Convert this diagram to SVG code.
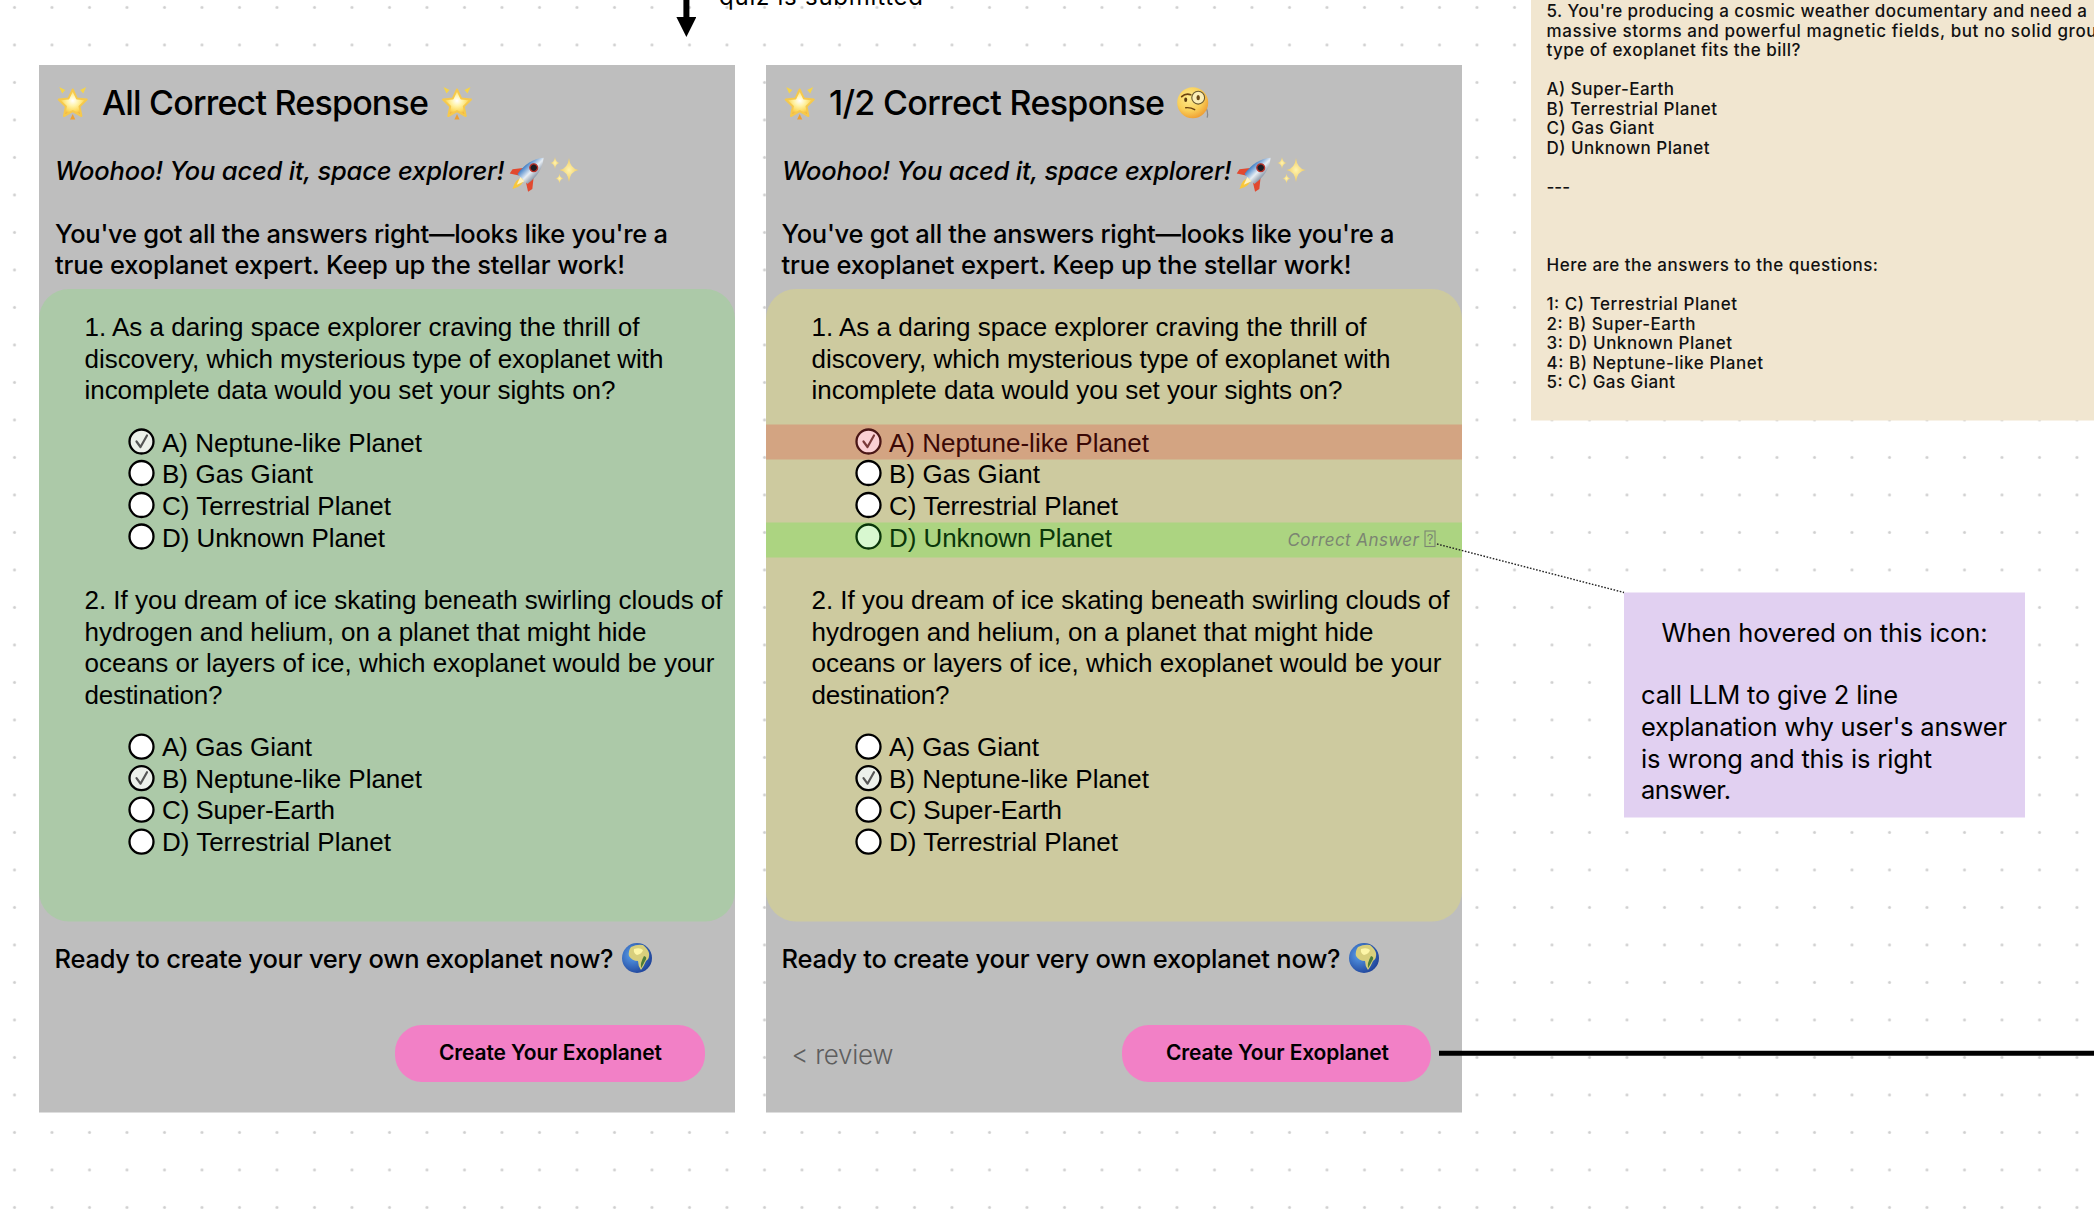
<svg xmlns="http://www.w3.org/2000/svg" width="2094" height="1224" viewBox="0 0 2094 1224">
<style>
.ui{font-family:"Inter","Noto Sans",sans-serif;fill:#000}
.h1{font-size:34px;font-weight:500}
.em{font-size:25.5px;font-weight:500;font-style:italic}
.b{font-size:25.5px;font-weight:500}
.q{font-family:"Liberation Sans",Arial,sans-serif;font-size:26px;fill:#000}
.btn{font-size:21px;font-weight:600}
.panel{fill:#bebebe}
.pill{fill:#f280c6}
.radio{fill:#fff;stroke:#000;stroke-width:2.3}
.on{fill:#ecf0ea}
.tick{fill:none;stroke:#555;stroke-width:2.2;stroke-linecap:round;stroke-linejoin:round}
.a{font-family:"Inter","Noto Sans",sans-serif;font-size:17px;font-weight:500;fill:#111}
.n{font-family:"Inter","Noto Sans",sans-serif;font-size:25.5px;fill:#000}
</style>
<defs>
<pattern id="dots" width="37.5" height="37.5" patternUnits="userSpaceOnUse"><circle cx="14.5" cy="7.5" r="1.5" fill="#cfcfcf"/></pattern>
<marker id="head" markerUnits="userSpaceOnUse" markerWidth="22" markerHeight="22" refX="1" refY="10" orient="auto"><path d="M0,0L20,10L0,20Z" fill="#000"/></marker>
<radialGradient id="gStar" cx="50%" cy="42%" r="58%"><stop offset="0" stop-color="#ffffff"/><stop offset=".35" stop-color="#fff3a8"/><stop offset=".7" stop-color="#fcd85c"/><stop offset="1" stop-color="#eda332"/></radialGradient>
<radialGradient id="gFace" cx="40%" cy="35%" r="70%"><stop offset="0" stop-color="#fdeb8f"/><stop offset=".6" stop-color="#f9cf58"/><stop offset="1" stop-color="#ee9a30"/></radialGradient>
<radialGradient id="gSea" cx="35%" cy="40%" r="70%"><stop offset="0" stop-color="#5aa0ec"/><stop offset="1" stop-color="#1c3f96"/></radialGradient>
<linearGradient id="gBody" x1="0" y1="0" x2="1" y2="0"><stop offset="0" stop-color="#3f7fc8"/><stop offset=".55" stop-color="#e8eef4"/><stop offset="1" stop-color="#8a97a8"/></linearGradient>
<radialGradient id="gSpark" cx="50%" cy="50%" r="50%"><stop offset="0" stop-color="#fff4b0"/><stop offset="1" stop-color="#f0ca60"/></radialGradient>
<g id="star">
<path d="M0,-13.5L4.2,-4.6L14,-3.4L6.8,3.4L8.7,13L0,8.2L-8.7,13L-6.8,3.4L-14,-3.4L-4.2,-4.6Z" fill="url(#gStar)" stroke="#f6c94c" stroke-width="2" stroke-linejoin="round"/>
<path d="M-13.5,-16L-7.5,-13L-10.5,-9.5Z M13.5,-16L7.5,-13L10.5,-9.5Z" fill="#f5d44a"/>
<path d="M-2.6,16.5L2.6,16.5L0,11Z" fill="#ee9f32"/>
</g>
<g id="spark4"><path d="M0,-10Q1,-1 8,0Q1,1 0,10Q-1,1 -8,0Q-1,-1 0,-10Z" fill="url(#gSpark)"/></g>
<g id="rocket">
<g transform="rotate(45)">
<path d="M-6,0L-14,10L-13,15L-5,10Z M6,0L14,10L13,15L5,10Z" fill="#e2492f"/>
<path d="M0,8Q6,14 0,24Q-6,14 0,8Z" fill="#f8c73c"/>
<path d="M0,-20Q10,-8 7,10L-7,10Q-10,-8 0,-20Z" fill="url(#gBody)"/>
<path d="M-3,10L3,10L0,18Z" fill="#fff3c0"/>
<circle cy="-6" r="3.8" fill="#1c1c24" stroke="#b8322a" stroke-width="1.5"/>
</g>
</g>
<g id="sparkles">
<use href="#spark4" transform="scale(1.2)"/>
<use href="#spark4" transform="translate(-14,-7) scale(.6)"/>
<use href="#spark4" transform="translate(-9.5,8.5) scale(.5)"/>
</g>
<g id="globe">
<circle r="15" fill="url(#gSea)"/>
<path d="M-6,-11Q0,-14 6,-13Q11,-9 12,-5Q13,0 9,3Q7,8 4,12Q1,8 1,3Q-5,3 -8,-2Q-9,-7 -6,-11Z" fill="#d8cf7c"/>
<path d="M-3,-9Q3,-11 6,-8Q5,-4 0,-3Q-4,-5 -3,-9Z" fill="#fdf6a8"/>
<path d="M7,-2Q11,-1 8,3Q5,9 4,10Q3,5 7,-2Z" fill="#4e7d3a"/>
</g>
<g id="monocle">
<path d="M12,2Q16,9 14.5,15" fill="none" stroke="#8a8a8a" stroke-width="1.3"/>
<circle r="15.5" fill="url(#gFace)"/>
<path d="M-11,-6Q-7,-10 -2,-8" fill="none" stroke="#6b4210" stroke-width="1.7" stroke-linecap="round"/>
<ellipse cx="-7" cy="-3" rx="1.5" ry="2.2" fill="#5a3a10"/>
<path d="M-7,5Q-2,4.5 2,7" fill="none" stroke="#6b4210" stroke-width="1.4" stroke-linecap="round"/>
<circle cx="5.5" cy="-5" r="6.4" fill="#fbeeb8" stroke="#6b5a30" stroke-width="1.1"/>
<ellipse cx="5.5" cy="-5" rx="1.7" ry="2.6" fill="#6b4a18"/>
</g>
</defs>

<rect id="background" width="2094" height="1224" fill="#fff"/>
<rect width="2094" height="1224" fill="url(#dots)"/>

<g id="panel-all-correct">
<rect class="panel" x="39" y="65" width="696" height="1047.5"/>
<use href="#star" x="72.7" y="103"/>
<text class="ui h1" x="102" y="115" textLength="327">All Correct Response</text>
<use href="#star" x="457" y="103"/>
<text class="ui em" x="55" y="180" textLength="449.5">Woohoo! You aced it, space explorer!</text>
<use href="#rocket" transform="translate(529.5,172) scale(1)"/>
<use href="#sparkles" x="569" y="170"/>
<text class="ui b" x="55" y="243" textLength="613">You've got all the answers right—looks like you're a</text>
<text class="ui b" x="55" y="274" textLength="570">true exoplanet expert. Keep up the stellar work!</text>
<rect x="39" y="289" width="696" height="632.5" rx="30" fill="#acc9a8"/>
<text class="q" x="84.5" y="336.2" textLength="555">1. As a daring space explorer craving the thrill of</text>
<text class="q" x="84.5" y="367.7" textLength="579">discovery, which mysterious type of exoplanet with</text>
<text class="q" x="84.5" y="399.2" textLength="531">incomplete data would you set your sights on?</text>
<circle class="radio on" cx="141.5" cy="441.5" r="12"/><path class="tick" d="M136.5,441.5L140.5,447L147,435.5"/>
<text class="q" x="162" y="452.4" textLength="260">A) Neptune-like Planet</text>
<circle class="radio" cx="141.5" cy="473" r="12"/>
<text class="q" x="162" y="483.4" textLength="151">B) Gas Giant</text>
<circle class="radio" cx="141.5" cy="505" r="12"/>
<text class="q" x="162" y="515.4" textLength="229">C) Terrestrial Planet</text>
<circle class="radio" cx="141.5" cy="536.5" r="12"/>
<text class="q" x="162" y="546.7" textLength="223">D) Unknown Planet</text>
<text class="q" x="84.5" y="609" textLength="638">2. If you dream of ice skating beneath swirling clouds of</text>
<text class="q" x="84.5" y="641" textLength="562">hydrogen and helium, on a planet that might hide</text>
<text class="q" x="84.5" y="672.4" textLength="630">oceans or layers of ice, which exoplanet would be your</text>
<text class="q" x="84.5" y="704.2" textLength="138">destination?</text>
<circle class="radio" cx="141.5" cy="746.7" r="12"/>
<text class="q" x="162" y="756.2" textLength="150">A) Gas Giant</text>
<circle class="radio on" cx="141.5" cy="778.2" r="12"/><path class="tick" d="M136.5,778.2L140.5,783.7L147,772.2"/>
<text class="q" x="162" y="788.2" textLength="260">B) Neptune-like Planet</text>
<circle class="radio" cx="141.5" cy="809.7" r="12"/>
<text class="q" x="162" y="819.4" textLength="173">C) Super-Earth</text>
<circle class="radio" cx="141.5" cy="841.7" r="12"/>
<text class="q" x="162" y="851.2" textLength="229">D) Terrestrial Planet</text>
<text class="ui b" x="54.5" y="968" textLength="559">Ready to create your very own exoplanet now?</text>
<use href="#globe" x="637" y="958"/>
<rect class="pill" x="395" y="1025" width="310" height="57" rx="27"/>
<text class="ui btn" x="439" y="1060" textLength="223">Create Your Exoplanet</text>
</g>

<g id="panel-half-correct">
<rect class="panel" x="766" y="65" width="696" height="1047.5"/>
<use href="#star" x="799.7" y="103"/>
<text class="ui h1" x="829" y="115" textLength="336">1/2 Correct Response</text>
<use href="#monocle" x="1192.7" y="102.7"/>
<text class="ui em" x="782" y="180" textLength="449.5">Woohoo! You aced it, space explorer!</text>
<use href="#rocket" transform="translate(1256.5,172) scale(1)"/>
<use href="#sparkles" x="1296" y="170"/>
<text class="ui b" x="781.5" y="243" textLength="613">You've got all the answers right—looks like you're a</text>
<text class="ui b" x="781.5" y="274" textLength="570">true exoplanet expert. Keep up the stellar work!</text>
<rect x="766" y="289" width="696" height="632.5" rx="30" fill="#cdca9f"/>
<text class="q" x="811.5" y="336.2" textLength="555">1. As a daring space explorer craving the thrill of</text>
<text class="q" x="811.5" y="367.7" textLength="579">discovery, which mysterious type of exoplanet with</text>
<text class="q" x="811.5" y="399.2" textLength="531">incomplete data would you set your sights on?</text>
<rect x="766" y="424.5" width="696" height="35" fill="#d3a482"/>
<rect x="766" y="522.5" width="696" height="35" fill="#acd481"/>
<circle cx="868.5" cy="441.5" r="12" fill="#fbd0d4" stroke="#4a1616" stroke-width="2.3"/><path class="tick" style="stroke:#7a3a3a" d="M863.5,441.5L867.5,447L874,435.5"/>
<text class="q" style="fill:#3a0806" x="889" y="452.4" textLength="260">A) Neptune-like Planet</text>
<circle class="radio" cx="868.5" cy="473" r="12"/>
<text class="q" x="889" y="483.4" textLength="151">B) Gas Giant</text>
<circle class="radio" cx="868.5" cy="505" r="12"/>
<text class="q" x="889" y="515.4" textLength="229">C) Terrestrial Planet</text>
<circle cx="868.5" cy="536.5" r="12" fill="#d8f8d0" stroke="#0a360a" stroke-width="2.3"/>
<text class="q" style="fill:#0a360a" x="889" y="546.7" textLength="223">D) Unknown Planet</text>
<text x="1287.5" y="545.5" textLength="131.5" font-family="Inter,'Noto Sans',sans-serif" font-size="17" font-style="italic" fill="#7b8472">Correct Answer</text>
<rect x="1425" y="531" width="10" height="15.5" fill="none" stroke="#7b8472" stroke-width="1.1"/>
<text x="1430" y="544" text-anchor="middle" font-family="Inter,'Noto Sans',sans-serif" font-size="13" fill="#7b8472">?</text>
<text class="q" x="811.5" y="609" textLength="638">2. If you dream of ice skating beneath swirling clouds of</text>
<text class="q" x="811.5" y="641" textLength="562">hydrogen and helium, on a planet that might hide</text>
<text class="q" x="811.5" y="672.4" textLength="630">oceans or layers of ice, which exoplanet would be your</text>
<text class="q" x="811.5" y="704.2" textLength="138">destination?</text>
<circle class="radio" cx="868.5" cy="746.7" r="12"/>
<text class="q" x="889" y="756.2" textLength="150">A) Gas Giant</text>
<circle class="radio on" cx="868.5" cy="778.2" r="12"/><path class="tick" d="M863.5,778.2L867.5,783.7L874,772.2"/>
<text class="q" x="889" y="788.2" textLength="260">B) Neptune-like Planet</text>
<circle class="radio" cx="868.5" cy="809.7" r="12"/>
<text class="q" x="889" y="819.4" textLength="173">C) Super-Earth</text>
<circle class="radio" cx="868.5" cy="841.7" r="12"/>
<text class="q" x="889" y="851.2" textLength="229">D) Terrestrial Planet</text>
<text class="ui b" x="781.5" y="968" textLength="559">Ready to create your very own exoplanet now?</text>
<use href="#globe" x="1364" y="958"/>
<text x="791.5" y="1064" textLength="102" font-family="Inter,'Noto Sans',sans-serif" font-size="26" font-weight="300" fill="#5e5e5e">&lt; review</text>
<rect class="pill" x="1122" y="1025" width="309" height="57" rx="27"/>
<text class="ui btn" x="1166" y="1060" textLength="223">Create Your Exoplanet</text>
</g>

<g id="note-answers">
<rect x="1531" y="0" width="563" height="420.5" fill="#f1e6d0"/>
<text class="a" x="1546.5" y="16.7" textLength="540.5">5. You're producing a cosmic weather documentary and need a</text>
<text class="a" x="1546.5" y="36.5" textLength="550">massive storms and powerful magnetic fields, but no solid grou</text>
<text class="a" x="1546.5" y="56" textLength="254">type of exoplanet fits the bill?</text>
<text class="a" x="1546.5" y="95" textLength="127.5">A) Super-Earth</text>
<text class="a" x="1546.5" y="114.7" textLength="170.5">B) Terrestrial Planet</text>
<text class="a" x="1546.5" y="134" textLength="107.5">C) Gas Giant</text>
<text class="a" x="1546.5" y="154" textLength="163">D) Unknown Planet</text>
<text class="a" x="1546.5" y="193" textLength="23.5">---</text>
<text class="a" x="1546.5" y="271.3" textLength="331.5">Here are the answers to the questions:</text>
<text class="a" x="1546.5" y="310.3" textLength="190.5">1: C) Terrestrial Planet</text>
<text class="a" x="1546.5" y="329.6" textLength="149">2: B) Super-Earth</text>
<text class="a" x="1546.5" y="349.3" textLength="185.5">3: D) Unknown Planet</text>
<text class="a" x="1546.5" y="368.6" textLength="216.5">4: B) Neptune-like Planet</text>
<text class="a" x="1546.5" y="388.3" textLength="128.5">5: C) Gas Giant</text>
</g>

<g id="note-hover">
<rect x="1624" y="592.5" width="401" height="225" fill="#e1d0f1"/>
<text class="n" x="1661.5" y="641.5" textLength="326">When hovered on this icon:</text>
<text class="n" x="1641" y="704" textLength="257">call LLM to give 2 line</text>
<text class="n" x="1641" y="736" textLength="366">explanation why user's answer</text>
<text class="n" x="1641" y="767.5" textLength="291">is wrong and this is right</text>
<text class="n" x="1641" y="799" textLength="90">answer.</text>
</g>

<g id="label-quiz">
<text x="719" y="4.5" textLength="204" font-family="Inter,'Noto Sans',sans-serif" font-size="24" fill="#000">quiz is submitted</text>
</g>

<g id="connectors" fill="none">
<path d="M686.4,-5V18" stroke="#000" stroke-width="6" marker-end="url(#head)"/>
<path d="M1439,1053.3H2094" stroke="#000" stroke-width="5"/>
<path d="M1437,544L1624,592.5" stroke="#222" stroke-width="1.4" stroke-dasharray="1.6 1.6"/>
</g>
</svg>
